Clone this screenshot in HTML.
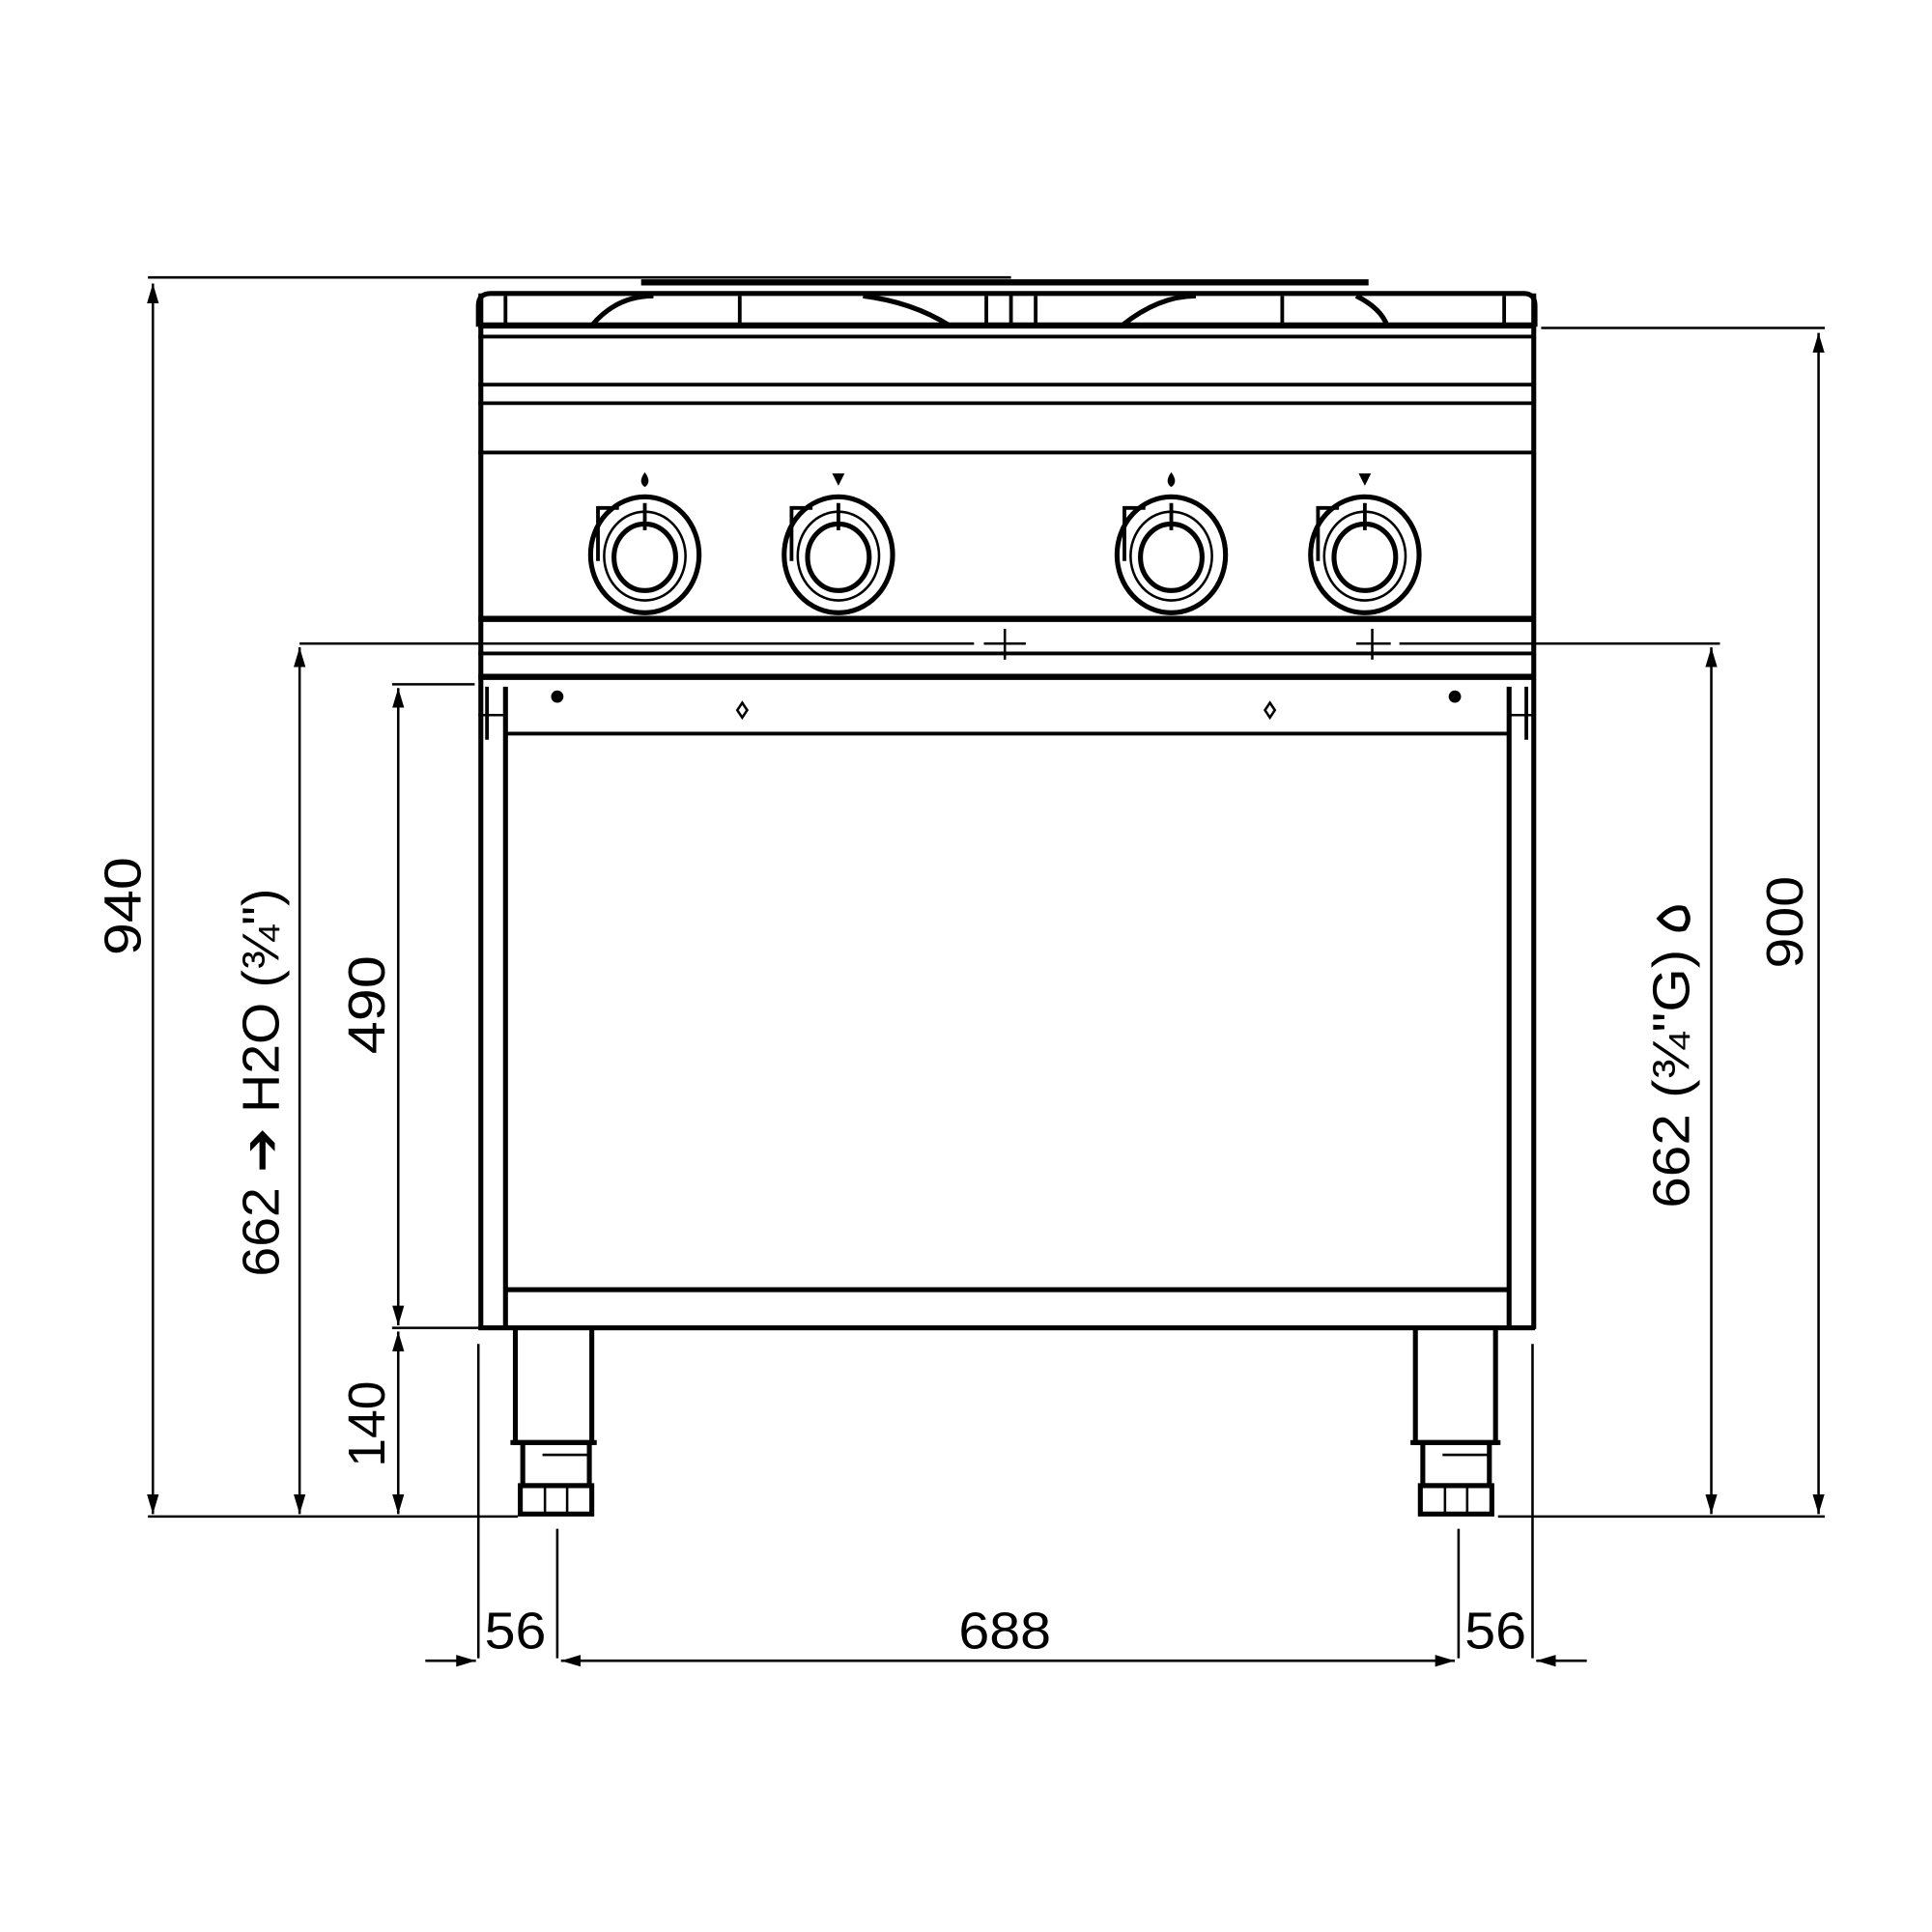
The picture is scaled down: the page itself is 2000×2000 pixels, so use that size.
<!DOCTYPE html>
<html><head><style>html,body{margin:0;padding:0;background:#fff}svg{display:block}</style></head>
<body>
<svg width="2000" height="2000" viewBox="0 0 1567 1567" xmlns="http://www.w3.org/2000/svg" font-family="Liberation Sans, sans-serif">
<rect width="1567" height="1567" fill="#fff"/>
<defs>
<marker id="a" viewBox="0 0 10 10" refX="10" refY="5" markerWidth="8" markerHeight="8" orient="auto-start-reverse"><path d="M0,2 L10,5 L0,8 z" fill="#000"/></marker>
</defs>
<g stroke="#000" fill="none">
<line x1="120" y1="225" x2="820" y2="225" stroke-width="2"/>
<path d="M388,265 L388,248 Q388,238 398,238 L1236,238 Q1245,238 1245,248 L1245,265" stroke-width="4"/>
<line x1="520" y1="229" x2="1110" y2="229" stroke-width="5"/>
<line x1="388" y1="264" x2="1245" y2="264" stroke-width="5"/>
<path d="M480,264 Q500,240 530,240 M700,240 Q740,245 770,264 M910,264 Q940,240 970,240 M1100,240 Q1120,250 1125,264" stroke-width="4"/>
<path d="M410,240 V264 M600,240 V264 M800,240 V264 M820,238 V264 M840,240 V264 M1040,240 V264 M1220,240 V264" stroke-width="3"/>
<line x1="390" y1="238" x2="390" y2="1078" stroke-width="4"/>
<line x1="1244" y1="238" x2="1244" y2="1078" stroke-width="4"/>
<line x1="388" y1="273" x2="1245" y2="273" stroke-width="3"/>
<line x1="388" y1="312" x2="1245" y2="312" stroke-width="3"/>
<line x1="388" y1="327" x2="1245" y2="327" stroke-width="3"/>
<line x1="388" y1="367" x2="1245" y2="367" stroke-width="3"/>
<line x1="388" y1="502" x2="1245" y2="502" stroke-width="5"/>
<line x1="388" y1="530" x2="1245" y2="530" stroke-width="3"/>
<line x1="388" y1="549" x2="1245" y2="549" stroke-width="5"/>
<line x1="243" y1="522" x2="790" y2="522" stroke-width="2"/>
<line x1="798" y1="522" x2="832" y2="522" stroke-width="2"/>
<line x1="815" y1="510" x2="815" y2="535" stroke-width="2"/>
<line x1="1100" y1="522" x2="1128" y2="522" stroke-width="2"/>
<line x1="1135" y1="522" x2="1395" y2="522" stroke-width="2"/>
<line x1="1113" y1="510" x2="1113" y2="535" stroke-width="2"/>
<g stroke-width="4">
<ellipse cx="523" cy="450" rx="44" ry="47"/><ellipse cx="523" cy="452" rx="25" ry="27"/><ellipse cx="523" cy="451" rx="33" ry="36" stroke-width="2"/>
<ellipse cx="680" cy="450" rx="44" ry="47"/><ellipse cx="680" cy="452" rx="25" ry="27"/><ellipse cx="680" cy="451" rx="33" ry="36" stroke-width="2"/>
<ellipse cx="950" cy="450" rx="44" ry="47"/><ellipse cx="950" cy="452" rx="25" ry="27"/><ellipse cx="950" cy="451" rx="33" ry="36" stroke-width="2"/>
<ellipse cx="1107" cy="450" rx="44" ry="47"/><ellipse cx="1107" cy="452" rx="25" ry="27"/><ellipse cx="1107" cy="451" rx="33" ry="36" stroke-width="2"/>
</g>
<path d="M523,408 V430 M680,408 V430 M950,408 V430 M1107,408 V430" stroke-width="3"/>
<path d="M485,455 V412 H502 M642,455 V412 H659 M912,455 V412 H929 M1069,455 V412 H1086" stroke-width="3"/>
<line x1="410" y1="557" x2="410" y2="1078" stroke-width="4"/>
<line x1="1224" y1="557" x2="1224" y2="1078" stroke-width="4"/>
<line x1="395" y1="557" x2="395" y2="600" stroke-width="3"/>
<line x1="1238" y1="557" x2="1238" y2="600" stroke-width="3"/>
<line x1="410" y1="595" x2="1224" y2="595" stroke-width="3"/>
<line x1="388" y1="580" x2="410" y2="580" stroke-width="2"/>
<line x1="1224" y1="580" x2="1245" y2="580" stroke-width="2"/>
<line x1="410" y1="1046" x2="1224" y2="1046" stroke-width="4"/>
<line x1="388" y1="1077" x2="1245" y2="1077" stroke-width="4"/>
<path d="M602,570 L606,576 L602,582 L598,576 Z M1030,570 L1034,576 L1030,582 L1026,576 Z" stroke-width="2"/>
<g stroke-width="4">
<path d="M418,1078 V1170 H480 V1078"/><path d="M414,1170 H484"/>
<path d="M424,1170 V1205 H478 V1170"/><path d="M422,1205 H480 V1228 H422 Z"/>
<path d="M1148,1078 V1170 H1213 V1078"/><path d="M1144,1170 H1217"/>
<path d="M1154,1170 V1205 H1208 V1170"/><path d="M1152,1205 H1210 V1228 H1152 Z"/>
</g>
<path d="M442,1205 V1228 M460,1205 V1228 M1172,1205 V1228 M1190,1205 V1228 M440,1180 H478 M1170,1180 H1208" stroke-width="2"/>
<line x1="120" y1="1230" x2="420" y2="1230" stroke-width="2"/>
<line x1="1215" y1="1230" x2="1480" y2="1230" stroke-width="2"/>
<line x1="1250" y1="266" x2="1480" y2="266" stroke-width="2"/>
<line x1="318" y1="555" x2="385" y2="555" stroke-width="2"/>
<line x1="318" y1="1077" x2="388" y2="1077" stroke-width="2"/>
<g stroke-width="2" marker-start="url(#a)" marker-end="url(#a)">
<line x1="124" y1="230" x2="124" y2="1228"/>
<line x1="243" y1="525" x2="243" y2="1228"/>
<line x1="323" y1="558" x2="323" y2="1075"/>
<line x1="323" y1="1080" x2="323" y2="1228"/>
<line x1="1475" y1="270" x2="1475" y2="1228"/>
<line x1="1388" y1="525" x2="1388" y2="1228"/>
<line x1="455" y1="1347" x2="1180" y2="1347"/>
</g>
<line x1="345" y1="1347" x2="386" y2="1347" stroke-width="2" marker-end="url(#a)"/>
<line x1="1287" y1="1347" x2="1246" y2="1347" stroke-width="2" marker-end="url(#a)"/>
<path d="M388,1090 V1345 M452,1240 V1345 M1183,1240 V1345 M1243,1090 V1345" stroke-width="2"/>
<path d="M1346,745 Q1356,734 1366,737 Q1372,745 1366,753 Q1356,756 1346,745 Z" stroke-width="4"/>
</g>
<g fill="#000">
<circle cx="452" cy="565" r="5"/><circle cx="1180" cy="565" r="5"/>
<path d="M523,383 q-6,8 0,12 q6,-4 0,-12z"/>
<path d="M680,384 l-5,0 l5,10 l5,-10 z"/>
<path d="M950,383 q-6,8 0,12 q6,-4 0,-12z"/>
<path d="M1107,384 l-5,0 l5,10 l5,-10 z"/>
</g>
<g font-size="42" fill="#000">
<text transform="translate(114,735) rotate(-90)" text-anchor="middle" textLength="80" lengthAdjust="spacingAndGlyphs">940</text>
<text transform="translate(226,878) rotate(-90)" text-anchor="middle" textLength="315" lengthAdjust="spacingAndGlyphs">662 ➔ H2O (¾")</text>
<text transform="translate(312,815) rotate(-90)" text-anchor="middle" textLength="80" lengthAdjust="spacingAndGlyphs">490</text>
<text transform="translate(312,1155) rotate(-90)" text-anchor="middle" textLength="70" lengthAdjust="spacingAndGlyphs">140</text>
<text transform="translate(1370,875) rotate(-90)" text-anchor="middle" textLength="210" lengthAdjust="spacingAndGlyphs">662 (¾"G)</text>
<text transform="translate(1462,748) rotate(-90)" text-anchor="middle" textLength="75" lengthAdjust="spacingAndGlyphs">900</text>
<text x="418" y="1337" text-anchor="middle" textLength="50" lengthAdjust="spacingAndGlyphs">56</text>
<text x="815" y="1337" text-anchor="middle" textLength="75" lengthAdjust="spacingAndGlyphs">688</text>
<text x="1213" y="1337" text-anchor="middle" textLength="50" lengthAdjust="spacingAndGlyphs">56</text>
</g>
</svg>
</body></html>
